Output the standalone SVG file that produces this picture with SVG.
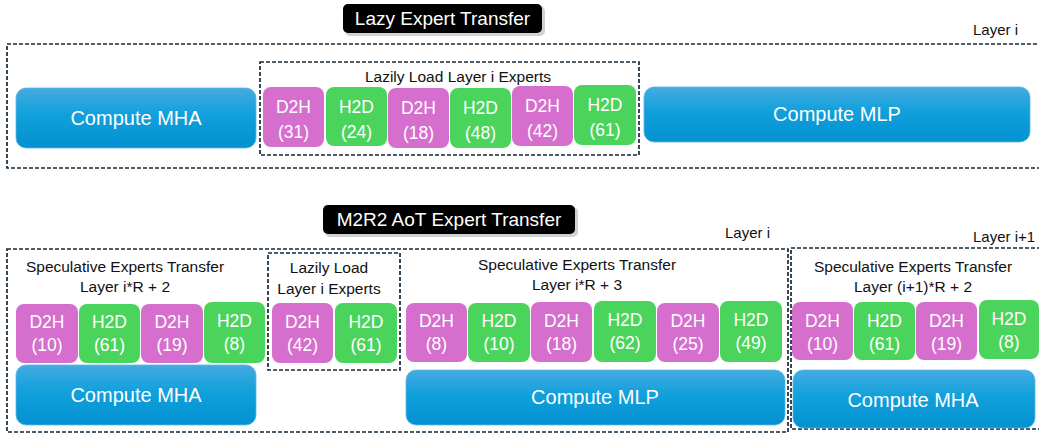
<svg xmlns="http://www.w3.org/2000/svg" width="1039" height="434" viewBox="0 0 1039 434">
<defs>
<linearGradient id="blue" x1="0" y1="0" x2="0" y2="1">
<stop offset="0" stop-color="#45abe1"/>
<stop offset="0.45" stop-color="#10a0db"/>
<stop offset="1" stop-color="#0391d0"/>
</linearGradient>
<style>
text{font-family:"Liberation Sans",Arial,sans-serif;}
.dash{fill:none;stroke:#15283a;stroke-width:1.7;stroke-dasharray:4 2;}
.cmp{fill:url(#blue);stroke:#5cb8e6;stroke-width:0.8;}
.d2h{fill:#d56ecc;}
.h2d{fill:#4bd45c;}
.wt{fill:#ffffff;text-anchor:middle;}
.bt{font-size:17.5px;}
.ct{font-size:20px;}
.lbl{fill:#111111;text-anchor:middle;font-size:15.5px;}
.lay{fill:#111111;font-size:15px;}
.title{fill:#000;}
.shadow{fill:#000;opacity:0.18;}
.tt{fill:#fff;text-anchor:middle;font-size:19px;}
</style>
</defs>

<!-- ===== Top: Lazy Expert Transfer ===== -->
<g id="title-lazy">
<rect class="shadow" x="345" y="6" width="200" height="30" rx="5"/>
<rect class="title" x="343" y="4" width="199" height="29" rx="5"/>
<text class="tt" x="442.5" y="25">Lazy Expert Transfer</text>
</g>

<g id="layer-top">
<rect class="dash" x="7" y="44" width="1040" height="124"/>
<text class="lay" x="973" y="35">Layer i</text>
</g>

<g id="compute-mha-top">
<rect class="cmp" x="16" y="88" width="240" height="60" rx="10"/>
<text class="wt ct" x="136" y="125">Compute MHA</text>
</g>

<g id="lazy-load-top">
<rect class="dash" x="260" y="62" width="379" height="93"/>
<text class="lbl" x="458" y="82">Lazily Load Layer i Experts</text>
</g>

<g id="t-d2h-31">
<rect class="d2h" x="263" y="87" width="61" height="60" rx="8"/>
<text class="wt bt" x="293.5" y="113">D2H</text><text class="wt bt" x="293.5" y="138">(31)</text>
</g>
<g id="t-h2d-24">
<rect class="h2d" x="326" y="87" width="61" height="59" rx="8"/>
<text class="wt bt" x="356.5" y="113">H2D</text><text class="wt bt" x="356.5" y="138">(24)</text>
</g>
<g id="t-d2h-18">
<rect class="d2h" x="388" y="88" width="61" height="60" rx="8"/>
<text class="wt bt" x="418.5" y="114">D2H</text><text class="wt bt" x="418.5" y="139">(18)</text>
</g>
<g id="t-h2d-48">
<rect class="h2d" x="450" y="88" width="61" height="60" rx="8"/>
<text class="wt bt" x="480.5" y="114">H2D</text><text class="wt bt" x="480.5" y="139">(48)</text>
</g>
<g id="t-d2h-42">
<rect class="d2h" x="512" y="86" width="61" height="60" rx="8"/>
<text class="wt bt" x="542.5" y="112">D2H</text><text class="wt bt" x="542.5" y="137">(42)</text>
</g>
<g id="t-h2d-61">
<rect class="h2d" x="574" y="85" width="62" height="60" rx="8"/>
<text class="wt bt" x="605" y="111">H2D</text><text class="wt bt" x="605" y="136">(61)</text>
</g>

<g id="compute-mlp-top">
<rect class="cmp" x="644" y="87" width="386" height="55" rx="10"/>
<text class="wt ct" x="837" y="121">Compute MLP</text>
</g>

<!-- ===== Bottom: M2R2 AoT Expert Transfer ===== -->
<g id="title-m2r2">
<rect class="shadow" x="325" y="207" width="253" height="30" rx="5"/>
<rect class="title" x="323" y="205" width="252" height="29" rx="5"/>
<text class="tt" x="449" y="226">M2R2 AoT Expert Transfer</text>
</g>

<g id="layer-i-bottom">
<rect class="dash" x="7" y="249" width="781" height="183"/>
<text class="lay" x="725" y="238">Layer i</text>
</g>

<g id="layer-i1-bottom">
<rect class="dash" x="791" y="248" width="260" height="181"/>
<text class="lay" x="973" y="242">Layer i+1</text>
</g>

<g id="spec-left">
<text class="lbl" x="125" y="272">Speculative Experts Transfer</text>
<text class="lbl" x="125" y="292">Layer i*R + 2</text>
</g>
<g id="b-d2h-10">
<rect class="d2h" x="16" y="304" width="62" height="59" rx="8"/>
<text class="wt bt" x="47" y="328">D2H</text><text class="wt bt" x="47" y="351">(10)</text>
</g>
<g id="b-h2d-61">
<rect class="h2d" x="79" y="304" width="61" height="59" rx="8"/>
<text class="wt bt" x="109.5" y="328">H2D</text><text class="wt bt" x="109.5" y="351">(61)</text>
</g>
<g id="b-d2h-19">
<rect class="d2h" x="141" y="304" width="62" height="59" rx="8"/>
<text class="wt bt" x="172" y="328">D2H</text><text class="wt bt" x="172" y="351">(19)</text>
</g>
<g id="b-h2d-8">
<rect class="h2d" x="204" y="302" width="61" height="61" rx="8"/>
<text class="wt bt" x="234.5" y="327">H2D</text><text class="wt bt" x="234.5" y="350">(8)</text>
</g>

<g id="lazy-load-bottom">
<rect class="dash" x="268" y="253" width="132" height="117"/>
<text class="lbl" x="329" y="273">Lazily Load</text>
<text class="lbl" x="329" y="294">Layer i Experts</text>
</g>
<g id="b-d2h-42">
<rect class="d2h" x="272" y="303" width="61" height="60" rx="8"/>
<text class="wt bt" x="302.5" y="328">D2H</text><text class="wt bt" x="302.5" y="351">(42)</text>
</g>
<g id="b-h2d-61b">
<rect class="h2d" x="335" y="303" width="62" height="60" rx="8"/>
<text class="wt bt" x="366" y="328">H2D</text><text class="wt bt" x="366" y="351">(61)</text>
</g>

<g id="compute-mha-bl">
<rect class="cmp" x="16" y="365" width="240" height="60" rx="10"/>
<text class="wt ct" x="136" y="402">Compute MHA</text>
</g>

<g id="spec-mid">
<text class="lbl" x="577" y="270">Speculative Experts Transfer</text>
<text class="lbl" x="577" y="290">Layer i*R + 3</text>
</g>
<g id="m-d2h-8">
<rect class="d2h" x="406" y="303" width="61" height="59" rx="8"/>
<text class="wt bt" x="436.5" y="327">D2H</text><text class="wt bt" x="436.5" y="350">(8)</text>
</g>
<g id="m-h2d-10">
<rect class="h2d" x="468" y="303" width="62" height="59" rx="8"/>
<text class="wt bt" x="499" y="327">H2D</text><text class="wt bt" x="499" y="350">(10)</text>
</g>
<g id="m-d2h-18">
<rect class="d2h" x="531" y="302" width="61" height="60" rx="8"/>
<text class="wt bt" x="561.5" y="327">D2H</text><text class="wt bt" x="561.5" y="350">(18)</text>
</g>
<g id="m-h2d-62">
<rect class="h2d" x="594" y="301" width="62" height="61" rx="8"/>
<text class="wt bt" x="625" y="326">H2D</text><text class="wt bt" x="625" y="349">(62)</text>
</g>
<g id="m-d2h-25">
<rect class="d2h" x="657" y="303" width="62" height="59" rx="8"/>
<text class="wt bt" x="688" y="327">D2H</text><text class="wt bt" x="688" y="350">(25)</text>
</g>
<g id="m-h2d-49">
<rect class="h2d" x="720" y="301" width="62" height="61" rx="8"/>
<text class="wt bt" x="751" y="326">H2D</text><text class="wt bt" x="751" y="349">(49)</text>
</g>

<g id="compute-mlp-bottom">
<rect class="cmp" x="406" y="370" width="379" height="55" rx="10"/>
<text class="wt ct" x="595" y="404">Compute MLP</text>
</g>

<g id="spec-right">
<text class="lbl" x="913" y="272">Speculative Experts Transfer</text>
<text class="lbl" x="913" y="292">Layer (i+1)*R + 2</text>
</g>
<g id="r-d2h-10">
<rect class="d2h" x="792" y="302" width="61" height="58" rx="8"/>
<text class="wt bt" x="822.5" y="327">D2H</text><text class="wt bt" x="822.5" y="350">(10)</text>
</g>
<g id="r-h2d-61">
<rect class="h2d" x="854" y="302" width="61" height="58" rx="8"/>
<text class="wt bt" x="884.5" y="327">H2D</text><text class="wt bt" x="884.5" y="350">(61)</text>
</g>
<g id="r-d2h-19">
<rect class="d2h" x="916" y="302" width="61" height="58" rx="8"/>
<text class="wt bt" x="946.5" y="327">D2H</text><text class="wt bt" x="946.5" y="350">(19)</text>
</g>
<g id="r-h2d-8">
<rect class="h2d" x="979" y="300" width="60" height="59" rx="8"/>
<text class="wt bt" x="1009" y="325">H2D</text><text class="wt bt" x="1009" y="348">(8)</text>
</g>

<g id="compute-mha-right">
<rect class="cmp" x="793" y="370" width="242" height="58" rx="10"/>
<text class="wt ct" x="913" y="407">Compute MHA</text>
</g>

<g id="connectors"></g>
</svg>
